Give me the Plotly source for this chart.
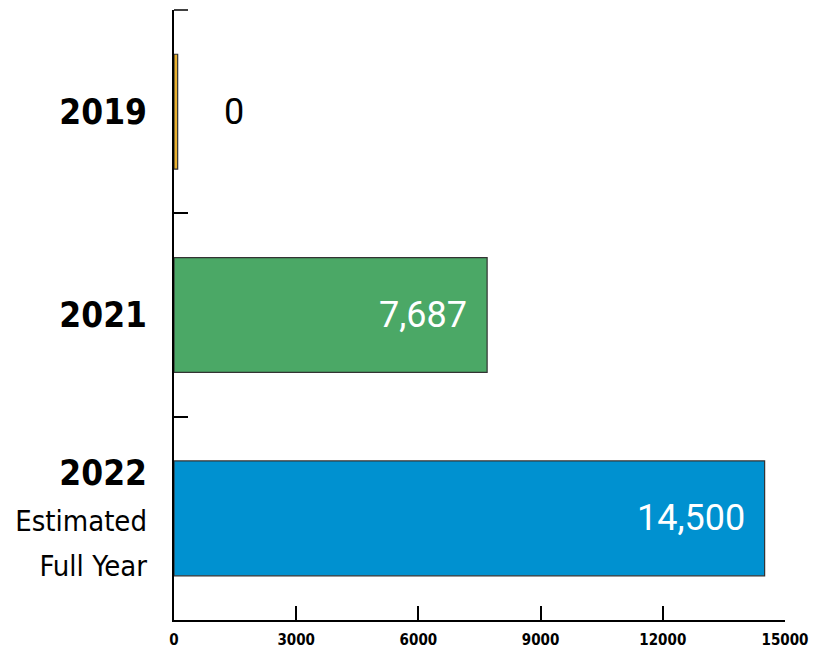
import plotly.graph_objects as go

# Data
categories = [
    "<b>2019</b>",
    "<b>2021</b>",
    "<b>2022</b><br><span style='font-size:29px'>Estimated</span><br><span style='font-size:29px'>Full Year</span>",
]
values = [90, 7687, 14500]
value_labels = ["0", "7,687", "14,500"]
bar_colors = ["#E9B12F", "#4BA866", "#0091D0"]
x_ticks = [0, 3000, 6000, 9000, 12000, 15000]

NARROW = "DejaVu Sans Condensed, Liberation Sans Narrow, Roboto Condensed, sans-serif"

fig = go.Figure(
    go.Bar(
        x=values,
        y=categories,
        orientation="h",
        width=0.565,
        marker=dict(color=bar_colors, line=dict(color="#333333", width=1.2)),
        hoverinfo="skip",
    )
)

# Value labels: inside (white) for the long bars, outside (black) for the tiny one
for cat, val, lab in zip(categories, values, value_labels):
    inside = val > 1000
    fig.add_annotation(
        x=val, y=cat, text=lab, showarrow=False,
        xanchor="right" if inside else "left",
        xshift=-18 if inside else 44,
        font=dict(family="Roboto", size=36, color="white" if inside else "black"),
    )

# top boundary tick of the y axis (plotly skips the outermost one)
fig.add_shape(
    type="line", xref="paper", yref="paper",
    xsizemode="pixel", xanchor=0, x0=0, x1=14, y0=1, y1=1,
    line=dict(color="black", width=1.5),
)

fig.update_layout(
    width=827, height=653,
    margin=dict(l=166, r=50, t=2, b=41),
    plot_bgcolor="white", paper_bgcolor="white",
    showlegend=False,
    font=dict(family=NARROW, color="black"),
)

fig.update_yaxes(
    type="category",
    autorange="reversed",
    automargin=False,
    showline=True, linecolor="black", linewidth=2,
    ticks="inside", tickson="boundaries", ticklen=14, tickcolor="black", tickwidth=1.5,
    tickfont=dict(family=NARROW, size=35, color="black"),
    ticklabelstandoff=18,
    showgrid=False, zeroline=False,
)

fig.update_xaxes(
    range=[0, 15000],
    automargin=False,
    tickvals=x_ticks, ticktext=[str(t) for t in x_ticks],
    showline=True, linecolor="black", linewidth=2,
    ticks="inside", ticklen=14, tickcolor="black", tickwidth=1.5,
    tickfont=dict(family=NARROW, size=15, color="black", weight="bold"),
    ticklabelstandoff=5,
    showgrid=False, zeroline=False,
)

fig.write_html("out.html")
